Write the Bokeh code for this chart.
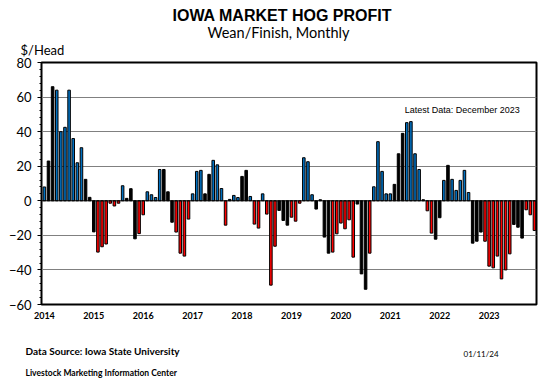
from bokeh.plotting import figure
from bokeh.models import FixedTicker, Label, Span, Range1d, ColumnDataSource, Title
from bokeh.embed import file_html
from bokeh.resources import INLINE

# ---- data ----
years = ["2014", "2015", "2016", "2017", "2018", "2019", "2020", "2021", "2022", "2023"]

profit = [
    8, 23, 66, 64, 40, 42.5, 64, 36, 22, 30.7, 12.4, 2,                  # 2014
    -18, -29.7, -26.6, -25, -1.4, -3, -1.4, 8.7, 1.4, 7, -22, -19,       # 2015
    -8.1, 5.2, 3.5, 1.9, 18.1, 18.1, 5.2, -12.4, -18.1, -30.3, -32, -10.6,  # 2016
    4, 17, 17.6, 4, 15.3, 23.4, 20.8, 7.1, -14.1, 0.8, 3.1, 1.9,         # 2017
    14.1, 17.6, 2.5, -13.5, -15.8, 4, -7.7, -48.8, -26.3, -5.6, -11.4, -14.1,  # 2018
    -9.5, -11.8, -1.4, 24.9, 22.6, 3.5, -4.8, 0.6, -21, -30.3, -29.7, -19.1,   # 2019
    -12.9, -16.2, -11, -32.6, -1.9, -42.3, -51.2, -30.3, 8.1, 34.2, 17, 4,     # 2020
    4, 9.5, 27.2, 39, 45.2, 45.8, 27.2, 18.1, 0.6, -5.8, -18.7, -22.2,         # 2021
    -9.8, 11.8, 20.5, 12.4, 6, 11.8, 17.6, 4.8, -24.5, -23.4, -18.1, -23.4,    # 2022
    -37.8, -38.8, -32, -45.2, -40, -30.7, -13.7, -15.3, -21.6, -5.2, -8.1, -17.2,  # 2023
]

# 1 = month belongs to the highlighted series (blue if profit, red if loss), 0 = other series
highlight = [
    1, 0, 0, 1, 1, 1, 1, 1, 1, 1, 0, 0,
    0, 1, 1, 1, 1, 1, 1, 1, 0, 0, 0, 1,
    1, 1, 1, 1, 1, 0, 0, 0, 1, 1, 1, 1,
    1, 1, 1, 0, 0, 1, 1, 1, 1, 0, 1, 1,
    0, 0, 1, 1, 1, 1, 1, 1, 1, 0, 0, 0,
    1, 1, 1, 1, 1, 1, 0, 0, 0, 0, 1, 1,
    1, 1, 1, 1, 0, 0, 0, 1, 1, 1, 1, 1,
    1, 0, 0, 0, 1, 1, 1, 1, 0, 1, 1, 0,
    0, 1, 0, 1, 1, 1, 1, 1, 0, 0, 0, 1,
    1, 1, 1, 1, 1, 1, 0, 0, 0, 1, 1, 1,
]

y_ticks = [-60, -40, -20, 0, 20, 40, 60, 80]

# ---- build ----
xs = list(range(len(profit)))
colors = []
for v, h in zip(profit, highlight):
    if h:
        colors.append("#0070C0" if v >= 0 else "#FF0000")
    else:
        colors.append("#000000")

src = ColumnDataSource(dict(x=xs, profit=profit, color=colors))

p = figure(width=547, height=379, output_backend="svg", toolbar_location=None,
           x_range=Range1d(-0.7, len(profit) - 0.5), y_range=Range1d(-60, 80),
           min_border_left=41, min_border_right=11, min_border_top=62, min_border_bottom=75)

p.background_fill_color = "white"
p.border_fill_color = "white"
p.outline_line_color = "black"
p.outline_line_width = 2

p.vbar(x="x", top="profit", bottom=0, width=0.62, fill_color="color",
       line_color="black", line_width=1, source=src)

p.add_layout(Span(location=0, dimension="width", line_color="black", line_width=1))

# x axis: year labels at January of each year
jan = [i * 12 for i in range(len(years))]
p.xaxis.ticker = FixedTicker(ticks=jan)
p.xaxis.major_label_overrides = {j: y for j, y in zip(jan, years)}
p.xaxis.axis_line_color = None
p.xaxis.major_tick_line_color = None
p.xaxis.minor_tick_line_color = None
p.xaxis.major_tick_out = 0
p.xaxis.major_tick_in = 0
p.xaxis.major_label_standoff = 7
p.xaxis.major_label_text_font = "Lato"
p.xaxis.major_label_text_font_style = "bold"
p.xaxis.major_label_text_font_size = "9px"
p.xaxis.major_label_text_color = "black"

# y axis
p.yaxis.ticker = FixedTicker(ticks=y_ticks, minor_ticks=list(range(-60, 81, 4)))
p.yaxis.axis_line_color = None
p.yaxis.major_tick_out = 4
p.yaxis.major_tick_in = 0
p.yaxis.minor_tick_out = 2
p.yaxis.minor_tick_in = 0
p.yaxis.major_tick_line_color = "black"
p.yaxis.minor_tick_line_color = "black"
p.yaxis.major_label_standoff = 6
p.yaxis.major_label_text_font = "Lato"
p.yaxis.major_label_text_font_size = "13px"
p.yaxis.major_label_text_color = "black"

p.xgrid.visible = False
p.ygrid.ticker = FixedTicker(ticks=[t for t in y_ticks if t not in (-60, 0, 80)])
p.ygrid.grid_line_color = "#808080"
p.ygrid.grid_line_width = 1


def title(text, side, font, size, style, offset, standoff):
    p.add_layout(Title(text=text, align="left", offset=offset, standoff=standoff,
                       text_font=font, text_font_size=size, text_font_style=style,
                       text_color="black"), side)


# above: innermost first
title("$/Head", "above", "Lato", "13px", "normal", -21, 9)
title("Wean/Finish, Monthly", "above", "Lato", "14.5px", "normal", 166, -10)
title("IOWA MARKET HOG PROFIT", "above", "Liberation Sans", "16px", "bold", 131, 5)

# below: zero-height rows, text pushed down by the (negative) standoff
title("Data Source:  Iowa State University", "below", "Lato", "10px", "bold", -16, -71)
title("01/11/24", "below", "Lato", "8px", "normal", 422, -74.6)
title("Livestock Marketing Information Center", "below", "Lato", "8.5px", "bold", -16, -113)

p.add_layout(Label(x=87.5, y=52.8, text="Latest Data:  December 2023",
                   text_font="Liberation Sans", text_font_size="9px",
                   text_baseline="middle", text_color="black"))

open("out.html", "w").write(file_html(p, INLINE))
